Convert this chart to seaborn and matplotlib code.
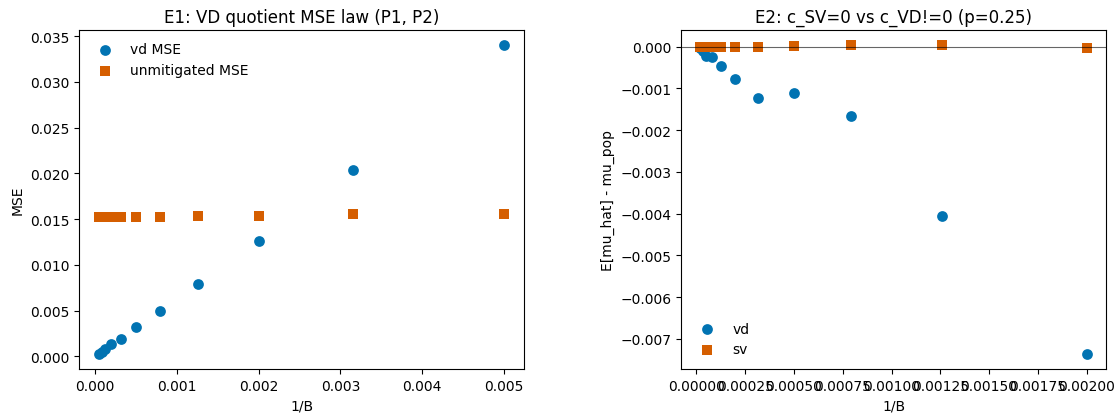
import matplotlib
matplotlib.use("Agg")
import matplotlib.pyplot as plt
import numpy as np
import seaborn as sns

# ---------------------------------------------------------------------------
# Data
# ---------------------------------------------------------------------------
inv_B_e1 = [0.005, 0.00316, 0.002, 0.00126, 0.000794, 0.0005,
            0.000316, 0.0002, 0.000126, 0.0000794, 0.00005]
vd_mse = [0.0340, 0.0204, 0.0126, 0.0079, 0.0050, 0.0032,
          0.0019, 0.0013, 0.0008, 0.0005, 0.0003]
unmitigated_mse = [0.01560, 0.01553, 0.01540, 0.01532, 0.01528, 0.01526,
                   0.01525, 0.01525, 0.01524, 0.01524, 0.01524]

inv_B_e2 = [0.002, 0.00126, 0.000794, 0.0005, 0.000316, 0.0002,
            0.000126, 0.0000794, 0.00005, 0.0000316, 0.00002]
vd_bias = [-0.00735, -0.00405, -0.00165, -0.00111, -0.00122, -0.00078,
           -0.00047, -0.00024, -0.00022, -0.00010, -0.00004]
sv_bias = [-0.00003, 0.00003, 0.00003, 0.00001, 0.00000, 0.00000,
           0.00000, 0.00000, 0.00000, 0.00000, 0.00000]

_COLORS = sns.color_palette("colorblind")
C_VD = _COLORS[0]
C_SV = _COLORS[3]

W, H = 1120, 414
fig, axes = plt.subplots(1, 2, figsize=(W / 100, H / 100), dpi=100)
# axes boxes in pixels: left, bottom, width, height
axes[0].set_position([79 / W, 44 / H, 445 / W, 339 / H])
axes[1].set_position([681 / W, 44 / H, 425 / W, 339 / H])

# E1
ax = axes[0]
sns.scatterplot(x=inv_B_e1, y=vd_mse, marker="o", color=C_VD, s=60,
                linewidth=0, label="vd MSE", ax=ax)
sns.scatterplot(x=inv_B_e1, y=unmitigated_mse, marker="s", color=C_SV, s=60,
                linewidth=0, label="unmitigated MSE", ax=ax)
ax.set_title("E1: VD quotient MSE law (P1, P2)")
ax.set_xlabel("1/B")
ax.set_ylabel("MSE")
ax.legend(frameon=False, loc="upper left")

# E2
ax = axes[1]
ax.axhline(0, color="k", lw=0.8, alpha=0.6)
sns.scatterplot(x=inv_B_e2, y=vd_bias, marker="o", color=C_VD, s=60,
                linewidth=0, label="vd", ax=ax)
sns.scatterplot(x=inv_B_e2, y=sv_bias, marker="s", color=C_SV, s=60,
                linewidth=0, label="sv", ax=ax)
ax.set_title("E2: c_SV=0 vs c_VD!=0 (p=0.25)")
ax.set_xlabel("1/B")
ax.set_ylabel("E[mu_hat] - mu_pop")
ax.legend(frameon=False, loc="lower left")

fig.savefig("out.png", dpi=100)
